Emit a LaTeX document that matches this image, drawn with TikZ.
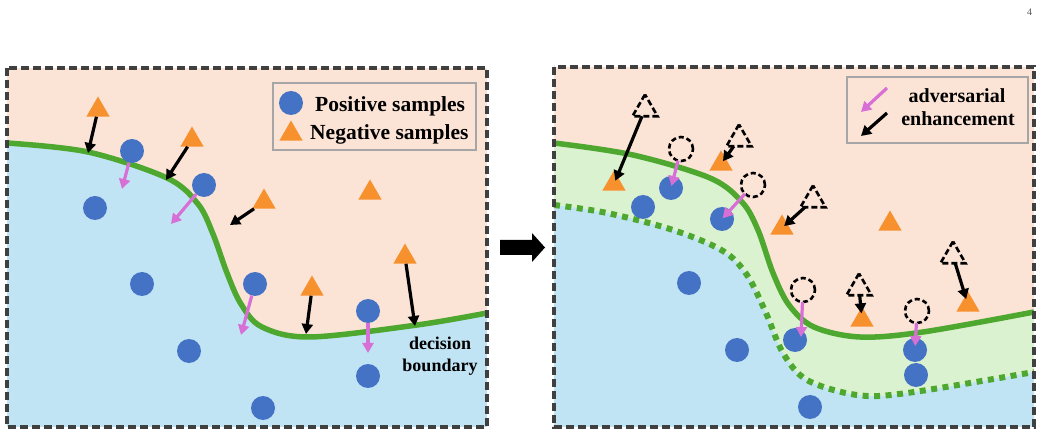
\documentclass[tikz,border=0pt]{standalone}
\usepackage{fontspec}
\setmainfont{Liberation Serif}
\usetikzlibrary{arrows.meta,shapes.geometric}
\definecolor{peach}{HTML}{FBE3D6}
\definecolor{skyb}{HTML}{C1E4F5}
\definecolor{lgreen}{HTML}{DAF2D0}
\definecolor{lgr}{HTML}{4EA72E}
\definecolor{dotb}{HTML}{4472C4}
\definecolor{orng}{HTML}{F7912E}
\definecolor{pinkc}{HTML}{D86FD6}
\definecolor{framec}{HTML}{404040}
\definecolor{legc}{HTML}{A6A6A6}
\begin{document}
\begin{tikzpicture}[x=1pt,y=-1pt,
 posdot/.style={circle,fill=dotb,inner sep=0pt,minimum size=24pt,outer sep=0pt},
 negtri/.style={regular polygon,regular polygon sides=3,fill=orng,inner sep=0pt,minimum size=27pt,outer sep=0pt},
 negdash/.style={regular polygon,regular polygon sides=3,draw=black,line width=2.6pt,dash pattern=on 6pt off 3pt,inner sep=0pt,minimum size=29pt,outer sep=0pt},
 posdash/.style={circle,draw=black,line width=2.6pt,dash pattern=on 5pt off 3pt,inner sep=0pt,minimum size=24pt,outer sep=0pt},
 barr/.style={draw=black,line width=3.2pt,-{Triangle[length=10pt,width=11pt]}},
 parr/.style={draw=pinkc,line width=3.2pt,-{Triangle[length=10pt,width=11pt]},pinkc},
 bound/.style={line width=5.5pt,draw=lgr},
 bounddot/.style={line width=6pt,draw=lgr,dash pattern=on 6pt off 5.5pt},
 panel/.style={draw=framec,line width=3.2pt,dash pattern=on 8pt off 4pt},
 legbox/.style={draw=legc,line width=2.2pt},
 legtxt/.style={font=\fontsize{21.5}{24}\selectfont\bfseries},
 legtxt2/.style={font=\fontsize{20}{23}\selectfont\bfseries},
 lab/.style={font=\fontsize{18}{20}\selectfont\bfseries},
]
\useasboundingbox (0,0) rectangle (1042,435);
% ---------- left panel backgrounds ----------
\fill[peach] (7,68) rectangle (487,427);
\fill[skyb] plot[smooth,tension=0.55] coordinates {(7,143) (88,152) (167,178) (198,204) (213,234) (227,273) (241,304) (262,327) (310,337) (417,325) (487,313)} -- (487,427) -- (7,427) -- cycle;
\draw[bound] plot[smooth,tension=0.55] coordinates {(7,143) (88,152) (167,178) (198,204) (213,234) (227,273) (241,304) (262,327) (310,337) (417,325) (487,313)};
% ---------- right panel backgrounds ----------
\fill[peach] (554,67) rectangle (1034,427);
\fill[lgreen] plot[smooth,tension=0.55] coordinates {(554,143) (633,155) (710,178) (742,202) (758,230) (773,273) (789,305) (814,327) (860,337) (923,332) (1034,312)} -- (1034,427) -- (554,427) -- cycle;
\fill[skyb] plot[smooth,tension=0.55] coordinates {(554,205) (607,213) (673,230) (723,251) (747,275) (766,313) (783,353) (807,380) (857,395) (907,393) (1034,372)} -- (1034,427) -- (554,427) -- cycle;
\draw[bound] plot[smooth,tension=0.55] coordinates {(554,143) (633,155) (710,178) (742,202) (758,230) (773,273) (789,305) (814,327) (860,337) (923,332) (1034,312)};
\draw[bounddot] plot[smooth,tension=0.55] coordinates {(554,205) (607,213) (673,230) (723,251) (747,275) (766,313) (783,353) (807,380) (857,395) (907,393) (1034,372)};
% ---------- left panel nodes ----------
\node[posdot] (p1) at (132,151) {};
\node[posdot] (p2) at (95,208) {};
\node[posdot] (p3) at (204,185) {};
\node[posdot] (p4) at (142,284) {};
\node[posdot] (p5) at (255,284) {};
\node[posdot] (p6) at (189,351) {};
\node[posdot] (p7) at (368,311) {};
\node[posdot] (p8) at (368,376) {};
\node[posdot] (p9) at (263,408) {};
\node[negtri] (n1) at (98,110) {};
\node[negtri] (n2) at (192,140) {};
\node[negtri] (n3) at (264,202) {};
\node[negtri] (n4) at (370,193) {};
\node[negtri] (n5) at (405,257) {};
\node[negtri] (n6) at (312,289) {};
\coordinate (c1) at (88,153);
\coordinate (c2) at (166,180);
\coordinate (c3) at (230,225);
\coordinate (c4) at (306,334);
\coordinate (c5) at (415,326);
\coordinate (q1) at (122,189);
\coordinate (q2) at (171,224);
\coordinate (q3) at (241,335);
\coordinate (q4) at (368,353);
\draw[barr] (n1) -- (c1);
\draw[barr] (n2) -- (c2);
\draw[barr] (n3) -- (c3);
\draw[barr] (n6) -- (c4);
\draw[barr] (n5) -- (c5);
\draw[parr] (p1) -- (q1);
\draw[parr] (p3) -- (q2);
\draw[parr] (p5) -- (q3);
\draw[parr] (p7) -- (q4);
\node[lab,anchor=base] (db1) at (440,350) {decision};
\node[lab,anchor=base] (db2) at (440,372) {boundary};
% left legend
\node[legbox,minimum width=203pt,minimum height=67pt,inner sep=0pt] (leg1) at (374.5,116.5) {};
\node[posdot] (lp) at (291,103) {};
\node[negtri] (ln) at (291,134) {};
\node[legtxt,anchor=base west,inner sep=0pt] (lpt) at (315,111.5) {Positive samples};
\node[legtxt,anchor=base west,inner sep=0pt] (lnt) at (310,140) {Negative samples};
% ---------- right panel nodes ----------
\node[posdot] (r1) at (671,188) {};
\node[posdot] (r2) at (643,207) {};
\node[posdot] (r3) at (722,219) {};
\node[posdot] (r4) at (689,283) {};
\node[posdot] (r5) at (737,350) {};
\node[posdot] (r6) at (795,340) {};
\node[posdot] (r7) at (915,350) {};
\node[posdot] (r8) at (916,375) {};
\node[posdot] (r9) at (810,407) {};
\node[negtri] (s1) at (614,184) {};
\node[negtri] (s2) at (721,164) {};
\node[negtri] (s3) at (782,228) {};
\node[negtri] (s4) at (890,224) {};
\node[negtri] (s5) at (862,320) {};
\node[negtri] (s6) at (968,305) {};
\node[negdash] (d1) at (645,109) {};
\node[negdash] (d2) at (739,139) {};
\node[negdash] (d3) at (813,200) {};
\node[negdash] (d4) at (859,288) {};
\node[negdash] (d5) at (953,256) {};
\node[posdash] (e1) at (681,149) {};
\node[posdash] (e2) at (753,185) {};
\node[posdash] (e3) at (803,290) {};
\node[posdash] (e4) at (917,311) {};
\draw[barr,shorten >=-5pt] (d1) -- (s1);
\draw[barr,shorten >=-4pt] (d2) -- (s2);
\draw[barr,shorten >=-4pt] (d3) -- (s3);
\draw[barr,shorten >=-5pt] (d4) -- (s5);
\draw[barr,shorten >=-3pt] (d5) -- (s6);
\coordinate (t3) at (801,337);
\draw[parr,shorten >=2pt] (e1) -- (r1.center);
\draw[parr,shorten >=1pt] (e2) -- (r3.center);
\draw[parr] (e3) -- (t3);
\draw[parr,shorten >=4pt] (e4) -- (r7.center);
% right legend
\node[legbox,minimum width=181pt,minimum height=66pt,inner sep=0pt] (leg2) at (937.5,110) {};
\coordinate (la1) at (887,88);
\coordinate (la2) at (861,112);
\coordinate (lb1) at (887,113);
\coordinate (lb2) at (861,136);
\draw[parr] (la1) -- (la2);
\draw[barr] (lb1) -- (lb2);
\node[legtxt2,anchor=base,inner sep=0pt] (adv) at (957,103) {adversarial};
\node[legtxt2,anchor=base,inner sep=0pt] (enh) at (958,126) {enhancement};
% ---------- frames ----------
\draw[panel] (7,68) rectangle (487,427);
\draw[panel] (554,67) rectangle (1034,427);
% big arrow
\fill[black] (500,240) -- (532,240) -- (532,233) -- (545,247.5) -- (532,262) -- (532,255) -- (500,255) -- cycle;
% page number
\node[font=\fontsize{10}{12}\selectfont,text=black!65,anchor=base] (pg) at (1029.5,16) {4};
\end{tikzpicture}
\end{document}
